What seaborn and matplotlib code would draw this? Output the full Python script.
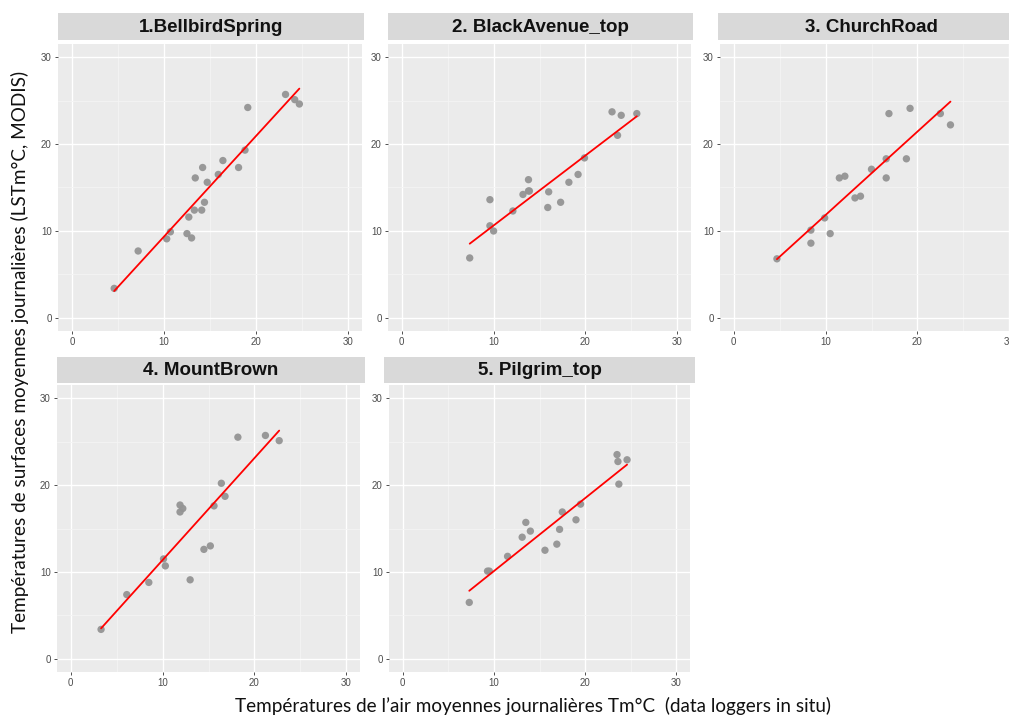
import matplotlib
matplotlib.use("Agg")
import matplotlib.pyplot as plt
import seaborn as sns
import pandas as pd
from matplotlib.ticker import MultipleLocator

# ---------------- data ----------------
site_titles = ["1.BellbirdSpring", "2. BlackAvenue_top", "3. ChurchRoad",
               "4. MountBrown", "5. Pilgrim_top"]

bellbird_air = [4.6, 7.2, 10.3, 10.7, 12.5, 13.0, 12.7, 13.3, 14.1, 14.4, 13.4,
                14.2, 14.7, 15.9, 16.4, 18.1, 18.8, 19.1, 23.2, 24.2, 24.7]
bellbird_lst = [3.4, 7.7, 9.1, 9.9, 9.7, 9.2, 11.6, 12.4, 12.4, 13.3, 16.1,
                17.3, 15.6, 16.5, 18.1, 17.3, 19.3, 24.2, 25.7, 25.1, 24.6]

blackave_air = [7.4, 9.6, 9.6, 10.0, 12.1, 13.2, 13.8, 13.9, 13.8, 15.9,
                16.0, 17.3, 18.2, 19.2, 19.9, 22.9, 23.9, 23.5, 25.6]
blackave_lst = [6.9, 13.6, 10.6, 10.0, 12.3, 14.2, 14.6, 14.6, 15.9, 12.7,
                14.5, 13.3, 15.6, 16.5, 18.4, 23.7, 23.3, 21.0, 23.5]

church_air = [4.7, 8.4, 8.4, 9.9, 10.5, 11.5, 12.1, 13.2, 13.8, 15.0,
              16.6, 16.6, 16.9, 18.8, 19.2, 22.5, 23.6]
church_lst = [6.8, 10.1, 8.6, 11.5, 9.7, 16.1, 16.3, 13.8, 14.0, 17.1,
              18.3, 16.1, 23.5, 18.3, 24.1, 23.5, 22.2]

mountbrown_air = [3.3, 6.1, 8.5, 10.1, 10.3, 13.0, 11.9, 12.2, 11.9, 14.5,
                  15.2, 15.6, 16.4, 16.8, 18.2, 21.2, 22.7]
mountbrown_lst = [3.4, 7.4, 8.8, 11.5, 10.7, 9.1, 17.7, 17.3, 16.9, 12.6,
                  13.0, 17.6, 20.2, 18.7, 25.5, 25.7, 25.1]

pilgrim_air = [7.3, 9.3, 9.5, 11.5, 13.1, 13.5, 14.0, 15.6, 16.9, 17.2,
               17.5, 19.0, 19.5, 23.5, 23.6, 23.7, 24.6]
pilgrim_lst = [6.5, 10.1, 10.1, 11.8, 14.0, 15.7, 14.7, 12.5, 13.2, 14.9,
               16.9, 16.0, 17.8, 23.5, 22.7, 20.1, 22.9]

axis_ticks = [0, 10, 20, 30]
x_label = "Températures de l’air moyennes journalières Tm°C  (data loggers in situ)"
y_label = "Températures de surfaces moyennes journalières (LSTm°C, MODIS)"

series = [(bellbird_air, bellbird_lst), (blackave_air, blackave_lst),
          (church_air, church_lst), (mountbrown_air, mountbrown_lst),
          (pilgrim_air, pilgrim_lst)]

# ---------------- layout ----------------
W, H = 1009, 716
sns.set_theme(style="whitegrid")
plt.rcParams["font.family"] = ["Liberation Sans", "DejaVu Sans"]

fig = plt.figure(figsize=(W / 100, H / 100), dpi=100)
fig.patch.set_facecolor("white")

# panel boxes in pixels: left, top, right, bottom
panel_px = [(58, 44, 362, 331), (388, 44, 691, 331), (720, 44, 1023, 331),
            (57, 385, 360, 672), (389, 385, 690, 672)]
strip_px = [(58, 13, 364, 40), (388, 13, 693, 40), (718, 13, 1025, 40),
            (57, 357, 365, 383), (384, 357, 695, 383)]


def to_fig(box):
    l, t, r, b = box
    return [l / W, 1 - b / H, (r - l) / W, (b - t) / H]


for i, ((xs, ys), title) in enumerate(zip(series, site_titles)):
    df = pd.DataFrame({"air": xs, "lst": ys})
    ax = fig.add_axes(to_fig(panel_px[i]))
    ax.set_facecolor("#EBEBEB")
    sns.scatterplot(data=df, x="air", y="lst", ax=ax, color="#949494",
                    s=28, edgecolor="none", alpha=0.95, zorder=3)
    sns.regplot(data=df, x="air", y="lst", ax=ax, scatter=False, ci=None,
                color="red", line_kws={"lw": 1.3, "zorder": 4})
    ax.set_xlim(-1.5, 31.5)
    ax.set_ylim(-1.5, 31.5)
    ax.set_xticks(axis_ticks)
    ax.set_yticks(axis_ticks)
    ax.xaxis.set_minor_locator(MultipleLocator(5))
    ax.yaxis.set_minor_locator(MultipleLocator(5))
    ax.grid(which="major", color="white", lw=1.0)
    ax.grid(which="minor", color="#F4F4F4", lw=0.6)
    ax.set_axisbelow(True)
    for sp in ax.spines.values():
        sp.set_visible(False)
    ax.tick_params(which="major", length=2.5, width=0.6, color="#333333",
                   labelsize=7, labelcolor="#4D4D4D", pad=2,
                   bottom=True, left=True)
    ax.tick_params(which="minor", length=0)
    ax.set_xlabel("")
    ax.set_ylabel("")

    sax = fig.add_axes(to_fig(strip_px[i]))
    sax.set_facecolor("#D9D9D9")
    sax.set_xticks([])
    sax.set_yticks([])
    for sp in sax.spines.values():
        sp.set_visible(False)
    sax.text(0.5, 0.47, title, ha="center", va="center", fontsize=13.5,
             fontweight="bold", color="#111111", transform=sax.transAxes)

fig.text(533 / W, 1 - 706 / H, x_label, ha="center", va="center",
         fontsize=13.6, family=["Lato", "DejaVu Sans"], color="#111111")
fig.text(20 / W, 1 - 352 / H, y_label, ha="center", va="center",
         rotation=90, fontsize=13.6, family=["Lato", "DejaVu Sans"],
         color="#111111")

fig.savefig("out.png", dpi=100, facecolor="white")
